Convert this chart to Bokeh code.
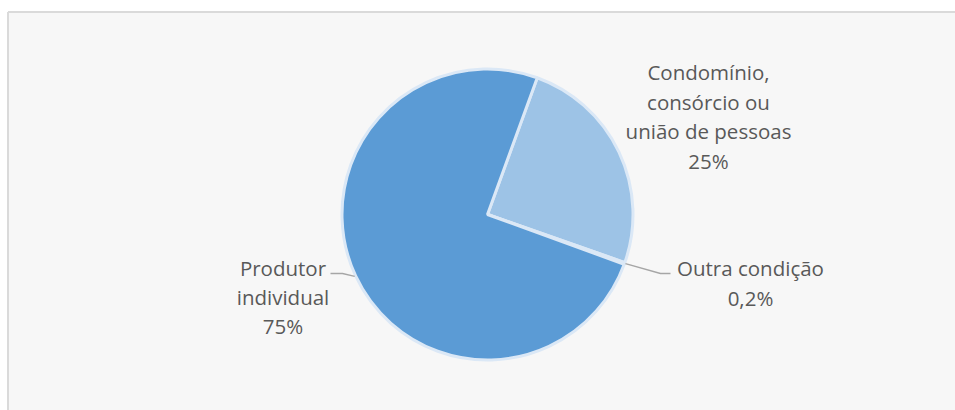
import math
from bokeh.plotting import figure
from bokeh.models import Range1d, ColumnDataSource
from bokeh.core.properties import value
from bokeh.embed import file_html
from bokeh.resources import INLINE

# ---- data ----
categories = ["Condomínio,\nconsórcio ou\nunião de pessoas", "Outra condição", "Produtor\nindividual"]
shares = [24.8, 0.2, 75.0]
pct_labels = ["25%", "0,2%", "75%"]

# ---- style ----
colors = ["#9dc3e6", "#4f8fcb", "#5b9bd5"]
border_col = "#dbe8f6"
text_col = "#595959"
W, H = 955, 410
cx, cy, R = 487, 196, 145.5
start_deg = 20.0  # clockwise from 12 o'clock
# label centre offsets from pie centre (px)
label_off = [(221, 98), (263, -68.5), (-204.5, -82.5)]
# leader: (elbow, end) offsets, or None
leaders = [None, ((173, -59), (183, -59)), ((-145, -59), (-157, -59))]

p = figure(width=W, height=H, output_backend="svg", toolbar_location=None,
           x_range=Range1d(0, W), y_range=Range1d(0, H), min_border=0,
           background_fill_color="white", border_fill_color="white")
p.outline_line_color = None
p.axis.visible = False
p.grid.visible = False

# panel
p.quad(left=[7.5], right=[W + 300], bottom=[-300], top=[H - 11.5],
       fill_color="#f7f7f7", line_color=None)
p.segment(x0=[7.5, 7.5], y0=[-300, H - 11.5], x1=[7.5, W + 300], y1=[H - 11.5, H - 11.5],
          line_color="#dadada", line_width=2)

starts, ends, mids = [], [], []
cum = 0.0
total = sum(shares)
for s in shares:
    a0 = start_deg + cum / total * 360
    a1 = a0 + s / total * 360
    starts.append(math.radians(90 - a0))
    ends.append(math.radians(90 - a1))
    mids.append((a0 + a1) / 2)
    cum += s

src = ColumnDataSource(dict(start=starts, end=ends, color=colors))
p.wedge(x=cx, y=cy, radius=R, start_angle="start", end_angle="end",
        direction="clock", fill_color="color", line_color=border_col,
        line_width=3, source=src)

# leader lines
for m, ld in zip(mids, leaders):
    if ld is None:
        continue
    ex = cx + (R + 1) * math.sin(math.radians(m))
    ey = cy + (R + 1) * math.cos(math.radians(m))
    (bx, by), (tx, ty) = ld
    p.line([ex, cx + bx, cx + tx], [ey, cy + by, cy + ty],
           line_color="#a6a6a6", line_width=1.3)

texts = [c + "\n" + l for c, l in zip(categories, pct_labels)]
tx = [cx + o[0] for o in label_off]
ty = [cy + o[1] for o in label_off]
p.text(x=tx, y=ty, text=texts, text_font=value("Open Sans"),
       text_font_size="20.5px", text_color=text_col, text_align="center",
       text_baseline="middle", text_line_height=1.05)

open("out.html", "w").write(file_html(p, INLINE))
